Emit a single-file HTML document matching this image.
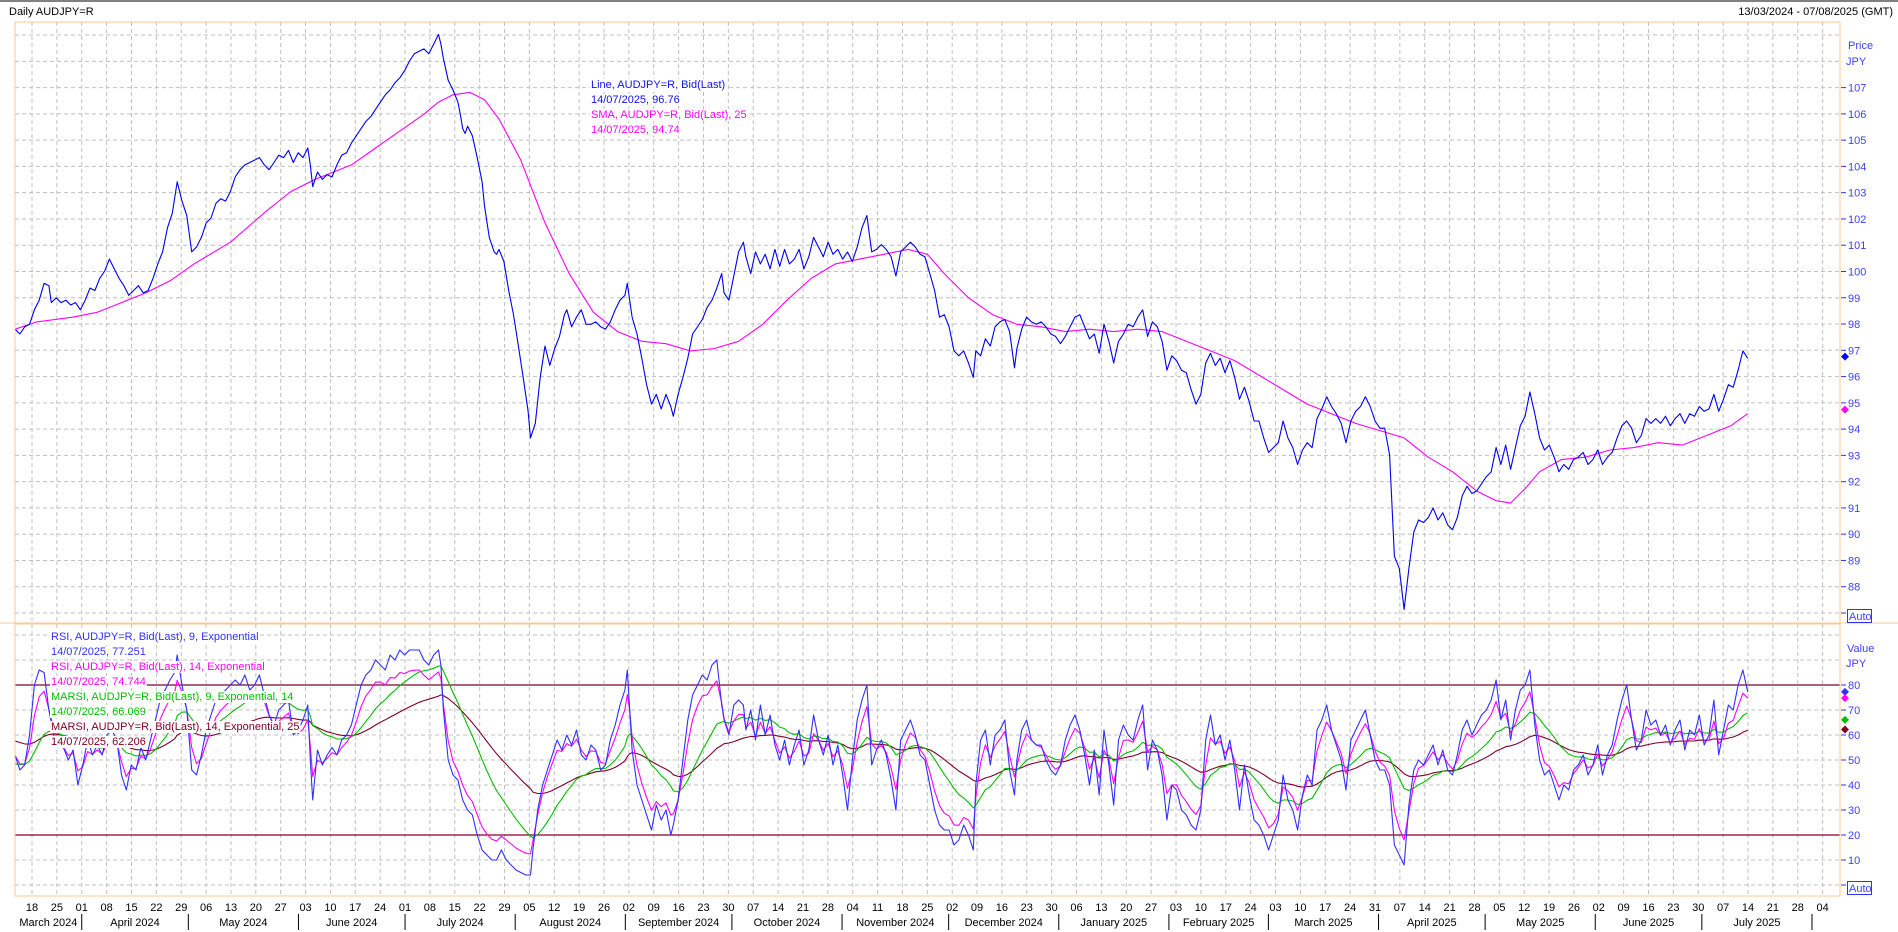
<!DOCTYPE html>
<html><head><meta charset="utf-8"><style>
html,body{margin:0;padding:0;background:#fff;}
svg{display:block;font-family:"Liberation Sans",sans-serif;}
</style></head><body>
<svg id="s" width="1898" height="932" xmlns="http://www.w3.org/2000/svg">
<rect x="0" y="0" width="1898" height="932" fill="#fff"/>
<rect x="0" y="0" width="1898" height="2" fill="#808080"/>
<text x="9" y="15" font-size="11" fill="#000">Daily AUDJPY=R</text>
<text x="1893" y="15" font-size="11" fill="#000" text-anchor="end">13/03/2024 - 07/08/2025 (GMT)</text>
<defs>
<clipPath id="cp"><rect x="15" y="22" width="1825" height="601"/></clipPath>
<clipPath id="cr"><rect x="15" y="624" width="1825" height="272"/></clipPath>
</defs>
<g id="grid"></g>
<g id="series"></g>
<g id="legend"></g>
<g id="axes"></g>
</svg>
<script>
const NS="http://www.w3.org/2000/svg";
function el(t,a,p,txt){const e=document.createElementNS(NS,t);for(const k in a)e.setAttribute(k,a[k]);if(txt!==undefined)e.textContent=txt;(p||document.getElementById('s')).appendChild(e);return e;}
const G=document.getElementById('grid'),S=document.getElementById('series'),L=document.getElementById('legend'),A=document.getElementById('axes');
const L0=15,R0=1840,PT=22,PB=623,RT=624,RB=896;
const py=p=>87.6+(107-p)*26.27;
const ry=v=>885-v*2.5;
const d0=new Date(2024,2,18);const PD=24.87/7;
const dx=d=>32+Math.round((d-d0)/86400000)*PD;
for(let k=0;k<=72;k++){const x=32+k*24.87;
 el('line',{x1:x,y1:PT,x2:x,y2:PB,stroke:'#c0c0c0','stroke-dasharray':'4,3'},G);
 el('line',{x1:x,y1:RT,x2:x,y2:RB,stroke:'#c0c0c0','stroke-dasharray':'4,3'},G);}
for(let p=87;p<=109;p++){const y=py(p);if(y<PT||y>PB)continue;el('line',{x1:L0,y1:y,x2:R0,y2:y,stroke:'#c0c0c0','stroke-dasharray':'4,3'},G);}
for(let v=0;v<=100;v+=10){if(v==20||v==80)continue;el('line',{x1:L0,y1:ry(v),x2:R0,y2:ry(v),stroke:'#c0c0c0','stroke-dasharray':'4,3'},G);}
el('line',{x1:L0,y1:ry(80),x2:R0,y2:ry(80),stroke:'#800028','stroke-width':1.3},G);
el('line',{x1:L0,y1:ry(20),x2:R0,y2:ry(20),stroke:'#800028','stroke-width':1.3},G);
el('rect',{x:L0,y:PT,width:R0-L0,height:PB-PT,fill:'none',stroke:'#ffc890'},A);
el('line',{x1:0,y1:PB,x2:1898,y2:PB,stroke:'#ffc890'},A);
el('rect',{x:L0,y:RT,width:R0-L0,height:RB-RT,fill:'none',stroke:'#ffc890'},A);
el('text',{x:1848,y:49,'font-size':11,fill:'#4040ff'},A,'Price');
el('text',{x:1846,y:65,'font-size':11,fill:'#4040ff'},A,'JPY');
for(let p=88;p<=107;p++){const y=py(p);el('line',{x1:1841,y1:y,x2:1846,y2:y,stroke:'#3030ff'},A);el('text',{x:1848,y:y+4,'font-size':11,fill:'#4040ff'},A,p);}
el('line',{x1:1841,y1:py(87),x2:1846,y2:py(87),stroke:'#3030ff'},A);
function auto(y){el('rect',{x:1847.5,y:y-6.5,width:24,height:13,fill:'#fff',stroke:'#3030ff'},A);el('text',{x:1849,y:y+4,'font-size':11,fill:'#4040ff'},A,'Auto');}
auto(py(87)+3);
el('text',{x:1847,y:652,'font-size':11,fill:'#4040ff'},A,'Value');
el('text',{x:1846,y:667,'font-size':11,fill:'#4040ff'},A,'JPY');
for(let v=10;v<=80;v+=10){const y=ry(v);el('line',{x1:1841,y1:y,x2:1846,y2:y,stroke:'#3030ff'},A);el('text',{x:1848,y:y+4,'font-size':11,fill:'#4040ff'},A,v);}
el('line',{x1:1841,y1:ry(0),x2:1846,y2:ry(0),stroke:'#3030ff'},A);
auto(ry(0)+3);
function dia(x,y,c){el('path',{d:`M${x-4},${y}L${x},${y-4}L${x+4},${y}L${x},${y+4}Z`,fill:c},A);}
dia(1845,py(96.76),'#0000ff');dia(1845,py(94.74),'#ff00ff');
dia(1845,ry(77.25),'#3030ff');dia(1845,ry(74.74),'#ff00ff');dia(1845,ry(66.07),'#00c000');dia(1845,ry(62.2),'#800028');
for(let k=0;k<=72;k++){const d=new Date(d0.getTime()+k*7*86400000+3600000*3);const x=32+k*24.87;
 el('text',{x:x,y:911,'font-size':11,fill:'#000','text-anchor':'middle'},A,String(d.getDate()).padStart(2,'0'));}
const MN=['January','February','March','April','May','June','July','August','September','October','November','December'];
let prev=L0;
for(let m=3;m<=19;m++){const y=2024+Math.floor(m/12),mm=m%12;const d=new Date(y,mm,1,3);let x=dx(d);
 const pm=(m-1)%12,py_=2024+Math.floor((m-1)/12);
 el('text',{x:(prev+x)/2,y:926,'font-size':11,fill:'#000','text-anchor':'middle'},A,MN[pm]+' '+py_);
 el('line',{x1:x,y1:914,x2:x,y2:930,stroke:'#000'},A);prev=x;}
const P=[[12,272],[16,276],[20,270],[24,268],[28,256],[32,248],[36,234],[40,236],[42,250],[46,246],[50,250],[54,248],[58,252],[62,250],[66,256],[70,248],[74,238],[78,240],[82,230],[86,224],[90,214],[94,222],[98,230],[102,236],[106,244],[110,240],[114,236],[118,242],[122,240],[126,230],[130,218],[134,208],[138,188],[142,176],[146,150],[150,166],[154,178],[158,208],[162,204],[166,196],[170,184],[174,180],[178,168],[182,164],[186,166],[190,158],[194,146],[198,140],[202,136],[206,134],[210,132],[214,130],[218,136],[222,140],[226,134],[230,128],[234,130],[238,124],[242,134],[246,126],[250,130],[254,122],[256,136],[258,154],[262,142],[266,148],[270,144],[274,146],[278,136],[282,128],[286,126],[290,118],[294,112],[298,106],[302,100],[306,96],[310,90],[314,84],[318,78],[322,74],[326,68],[330,64],[334,58],[338,50],[342,44],[346,42],[350,40],[354,44],[358,36],[362,28],[364,36],[366,48],[370,66],[374,74],[378,84],[380,94],[382,106],[384,110],[386,104],[390,112],[394,130],[398,150],[400,170],[404,196],[408,208],[410,210],[412,206],[416,216],[420,240],[424,260],[428,286],[432,312],[436,340],[438,362],[442,350],[446,312],[450,286],[454,302],[458,288],[462,278],[466,260],[468,256],[472,270],[476,262],[480,256],[484,268],[488,268],[492,266],[496,270],[500,272],[504,266],[508,256],[512,248],[516,244],[518,234],[520,248],[522,262],[526,276],[530,296],[534,318],[538,334],[542,326],[546,338],[550,326],[554,336],[556,344],[560,326],[564,312],[568,296],[572,276],[576,270],[580,264],[584,254],[588,248],[592,238],[596,226],[598,242],[602,248],[606,228],[610,208],[614,200],[616,212],[620,226],[624,208],[628,218],[632,210],[636,222],[640,206],[644,220],[648,206],[652,218],[656,214],[660,206],[664,222],[668,212],[672,196],[676,204],[680,212],[684,200],[688,210],[692,206],[696,214],[700,208],[704,216],[708,204],[712,188],[716,178],[720,208],[724,206],[728,202],[732,206],[736,212],[740,228],[744,208],[748,204],[752,200],[756,204],[760,210],[764,212],[768,226],[772,240],[776,262],[780,260],[784,270],[788,290],[792,294],[796,290],[800,300],[804,312],[806,290],[810,294],[814,280],[818,286],[822,270],[826,266],[830,264],[834,274],[838,304],[840,288],[844,272],[848,262],[852,266],[856,268],[860,266],[864,270],[868,276],[872,278],[876,284],[880,278],[884,270],[888,262],[892,260],[896,270],[900,280],[904,276],[908,292],[912,268],[916,282],[920,300],[924,282],[928,276],[932,268],[936,270],[940,262],[944,256],[948,278],[952,266],[956,270],[960,282],[964,306],[968,294],[972,298],[976,306],[980,308],[984,322],[988,334],[992,326],[996,300],[1000,292],[1004,302],[1008,296],[1012,308],[1016,298],[1020,312],[1024,330],[1028,320],[1032,332],[1036,348],[1040,348],[1044,362],[1048,374],[1052,370],[1056,366],[1060,348],[1064,362],[1068,370],[1072,384],[1076,372],[1080,366],[1084,370],[1088,346],[1092,338],[1096,328],[1100,336],[1104,342],[1108,350],[1112,366],[1116,348],[1120,340],[1124,336],[1128,328],[1132,336],[1136,348],[1140,354],[1144,354],[1148,376],[1152,460],[1156,470],[1160,504],[1164,470],[1168,440],[1172,430],[1176,432],[1180,428],[1184,420],[1188,430],[1192,424],[1196,434],[1200,438],[1204,428],[1208,410],[1212,402],[1216,408],[1220,406],[1224,400],[1228,394],[1232,390],[1236,370],[1240,384],[1244,368],[1248,388],[1252,370],[1256,352],[1260,344],[1264,324],[1268,342],[1272,362],[1276,372],[1280,368],[1284,378],[1288,390],[1292,384],[1296,388],[1300,380],[1304,378],[1308,374],[1312,384],[1316,380],[1320,372],[1324,384],[1328,378],[1332,374],[1336,362],[1340,352],[1344,348],[1348,354],[1352,366],[1356,360],[1360,346],[1364,350],[1368,346],[1372,350],[1376,344],[1380,352],[1384,346],[1388,342],[1392,350],[1396,342],[1400,344],[1404,336],[1408,340],[1412,338],[1416,326],[1420,340],[1424,330],[1428,318],[1432,320],[1436,306],[1440,290],[1444,296]];
const M=[[12,272],[30,266],[60,262],[80,258],[100,250],[120,242],[140,232],[160,218],[190,200],[220,174],[240,158],[260,148],[290,136],[310,122],[330,108],[350,94],[362,84],[374,78],[388,76],[400,82],[412,98],[430,132],[450,184],[470,226],[490,258],[510,274],[530,282],[550,284],[570,290],[590,288],[610,282],[630,268],[650,248],[670,230],[690,218],[710,214],[730,210],[750,206],[766,210],[780,226],[800,246],[820,260],[840,268],[860,270],[880,274],[900,272],[920,274],[940,272],[960,274],[980,282],[1000,290],[1020,298],[1040,310],[1060,322],[1080,334],[1100,342],[1120,350],[1140,356],[1160,362],[1180,378],[1200,390],[1220,406],[1236,414],[1248,416],[1260,404],[1272,390],[1290,380],[1310,378],[1330,372],[1350,370],[1370,366],[1390,368],[1410,360],[1430,352],[1444,342]];
const R9s="12:52,16:46,20:48,24:60,28:80,32:86,36:85,40:70,44:60,48:55,52:55,56:50,60:54,64:40,68:48,72:58,76:52,80:56,84:52,88:60,92:62,96:58,100:44,104:38,108:48,112:46,116:55,120:50,124:58,128:66,132:74,136:78,140:82,144:85,146:92,150:80,154:70,158:46,162:44,166:52,170:62,174:68,178:74,182:76,186:78,190:80,194:82,198:80,202:84,206:78,210:80,214:84,218:76,222:68,226:64,230:70,234:72,238:74,242:60,246:62,250:66,254:72,256:50,258:34,262:54,266:48,270:52,274:55,278:52,282:58,286:60,290:64,294:72,298:80,302:84,306:86,310:90,314:88,318:86,322:92,326:90,330:94,334:92,338:94,342:94,346:94,350:90,354:88,358:92,362:94,364:88,366:70,370:50,374:44,378:42,382:34,386:30,390:28,394:20,398:14,402:12,406:10,410:10,414:14,418:10,422:8,426:6,430:5,434:4,438:4,440:14,444:30,448:40,452:46,456:52,460:58,464:54,468:60,472:56,476:62,480:52,484:50,488:56,492:54,496:46,500:48,504:58,508:64,512:72,516:78,518:86,520:70,522:54,526:40,530:34,534:28,538:22,542:32,546:26,550:30,554:20,556:24,560:34,564:50,568:66,572:76,576:80,580:84,584:82,588:88,592:90,596:72,598:66,602:60,606:72,610:74,614:72,616:62,620:70,624:58,628:72,632:60,636:68,640:56,644:50,648:58,652:48,656:56,660:62,664:48,668:54,672:68,676:58,680:52,684:60,688:48,692:56,696:44,700:30,704:50,708:66,712:74,716:80,720:48,724:54,728:58,732:52,736:42,740:30,744:58,748:62,752:66,756:60,760:52,764:50,768:40,772:30,776:24,780:22,784:22,788:16,792:18,796:24,800:20,804:14,806:40,810:58,814:62,818:48,822:60,826:62,830:66,834:46,838:36,840:50,844:62,848:66,852:58,856:56,860:56,864:50,868:46,872:44,876:48,880:58,884:64,888:68,892:62,896:52,900:40,904:54,908:36,912:62,916:48,920:32,924:58,928:64,932:60,936:58,940:66,944:72,948:46,952:58,956:54,960:44,964:26,968:40,972:38,976:30,980:28,984:24,988:22,992:30,996:58,1000:68,1004:56,1008:60,1012:50,1016:58,1020:46,1024:30,1028:48,1032:36,1036:26,1040:24,1044:20,1048:14,1052:20,1056:26,1060:44,1064:34,1068:30,1072:22,1076:36,1080:44,1084:40,1088:62,1092:66,1096:72,1100:62,1104:56,1108:50,1112:38,1116:58,1120:62,1124:66,1128:70,1132:60,1136:50,1140:46,1144:46,1148:40,1152:16,1156:12,1160:8,1164:32,1168:46,1172:50,1176:48,1180:52,1184:56,1188:48,1192:54,1196:46,1200:44,1204:52,1208:62,1212:66,1216:60,1220:64,1224:68,1228:70,1232:74,1236:82,1240:66,1244:74,1248:58,1252:70,1256:78,1260:80,1264:86,1268:64,1272:50,1276:44,1280:46,1284:40,1288:34,1292:40,1296:38,1300:46,1304:48,1308:52,1312:44,1316:48,1320:56,1324:44,1328:52,1332:56,1336:66,1340:74,1344:80,1348:66,1352:54,1356:58,1360:70,1364:64,1368:66,1372:60,1376:64,1380:56,1384:62,1388:66,1392:54,1396:62,1400:60,1404:68,1408:56,1412:60,1416:74,1420:52,1424:62,1428:72,1432:70,1436:80,1440:86,1444:77.25";
const R9=R9s.split(',').map(s=>s.split(':').map(Number));
const SX=x=>x*1.21+0.5, SY=y=>y*1.208+0.6;
function path(pts,c,clip,w){el('path',{d:'M'+pts.map(p=>p[0].toFixed(1)+','+p[1].toFixed(1)).join('L'),fill:'none',stroke:c,'stroke-width':w||1.1,'clip-path':'url(#'+clip+')','stroke-linejoin':'round'},S);}
path(M.map(p=>[SX(p[0]),SY(p[1])]),'#ff00ff','cp');
path(P.map(p=>[SX(p[0]),SY(p[1])]),'#0000f0','cp');
let r14=[],prevv=R9[0][1];
for(const [x,v] of R9){let t=50+(v-50)*0.82;prevv=prevv*0.35+t*0.65;r14.push([x,prevv]);}
r14[r14.length-1][1]=74.74;
function ema(arr,n,seed){let a=2/(n+1),e=seed,out=[];for(const [x,v] of arr){e=e+a*(v-e);out.push([x,e]);}return out;}
const g=ema(R9,16,48), b=ema(r14,30,58);
const tx=a=>a.map(p=>[SX(p[0]),ry(p[1])]);
path(tx(b),'#800028','cr');
path(tx(g),'#00c000','cr');
path(tx(r14),'#ff00ff','cr');
path(tx(R9),'#3030ff','cr');
function leg(x,y,t,c){const tt=el('text',{x:x,y:y,'font-size':11,fill:c},L,t);const bb=tt.getBBox();const r=el('rect',{x:bb.x-1,y:bb.y,width:bb.width+2,height:bb.height,fill:'#fff'},L);L.insertBefore(r,tt);}
leg(591,88,'Line, AUDJPY=R, Bid(Last)','#1010f0');
leg(591,103,'14/07/2025, 96.76','#1010f0');
leg(591,118,'SMA, AUDJPY=R, Bid(Last),  25','#ff00ff');
leg(591,133,'14/07/2025, 94.74','#ff00ff');
const lg=[['RSI, AUDJPY=R, Bid(Last),  9, Exponential','#3030ff'],['14/07/2025, 77.251','#3030ff'],['RSI, AUDJPY=R, Bid(Last),  14, Exponential','#ff00ff'],['14/07/2025, 74.744','#ff00ff'],['MARSI, AUDJPY=R, Bid(Last),  9, Exponential, 14','#00c000'],['14/07/2025, 66.069','#00c000'],['MARSI, AUDJPY=R, Bid(Last),  14, Exponential, 25','#800028'],['14/07/2025, 62.206','#800028']];
lg.forEach((l,i)=>leg(51,640+i*15,l[0],l[1]));
</script>
</body></html>
